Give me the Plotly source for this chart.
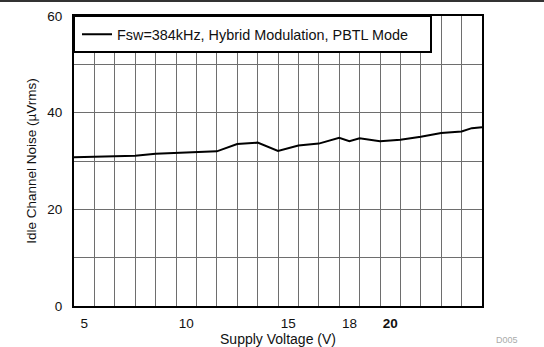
import plotly.graph_objects as go

# Supply voltage (V) and measured idle channel noise (uVrms)
supply_voltage = [4.5, 5.5, 6.5, 7.5, 8.5, 9.5, 10.5, 11.5, 12.5, 13.5, 14.5, 15.5,
                  16.5, 17.5, 18.0, 18.5, 19.5, 20.5, 21.5, 22.5, 23.5, 24.0, 24.5]
idle_noise = [30.8, 30.9, 31.0, 31.1, 31.5, 31.7, 31.8, 32.0, 33.5, 33.8, 32.1, 33.2,
              33.6, 34.8, 34.1, 34.7, 34.1, 34.4, 35.0, 35.8, 36.1, 36.8, 37.0]

x_tick_vals = [5, 10, 15, 18, 20]
x_tick_text = ["5", "10", "15", "18", "<b>20</b>"]
y_tick_vals = [0, 20, 40, 60]

series_name = "Fsw=384kHz, Hybrid Modulation, PBTL Mode"

W, H = 544, 347
L, R, T, B = 74, 62, 16, 41
pw, ph = W - L - R, H - T - B

def px_x(p):
    return (p - L) / pw

def px_y(p):
    return (H - B - p) / ph

font_family = "Liberation Sans, Arial, Helvetica, sans-serif"

fig = go.Figure()
fig.add_trace(go.Scatter(
    x=supply_voltage, y=idle_noise, mode="lines", name=series_name,
    line=dict(color="black", width=2),
))

grid_color = "#6e6e6e"

fig.update_xaxes(
    range=[4.5, 24.5],
    tickmode="array", tickvals=x_tick_vals, ticktext=x_tick_text,
    showgrid=False, zeroline=False,
    showline=True, linecolor="black", linewidth=2, mirror=True,
    ticks="", ticklabelstandoff=4,
    minor=dict(tickmode="linear", tick0=4.5, dtick=1, showgrid=True,
               gridcolor=grid_color, gridwidth=1),
    tickfont=dict(size=13.5, color="#111"),
    title=dict(text="Supply Voltage (V)", font=dict(size=14, color="#111"), standoff=0),
)
fig.update_yaxes(
    range=[0, 60],
    tickmode="array", tickvals=y_tick_vals,
    showgrid=True, gridcolor=grid_color, gridwidth=1, zeroline=False,
    showline=True, linecolor="black", linewidth=2, mirror=True,
    ticks="", ticklabelstandoff=7,
    minor=dict(tickmode="linear", tick0=0, dtick=10, showgrid=True,
               gridcolor=grid_color, gridwidth=1),
    tickfont=dict(size=13.5, color="#111"),
    title=dict(text="Idle Channel Noise (\u00b5Vrms)", font=dict(size=13.5, color="#111"), standoff=8),
)

shapes = [
    # legend frame
    dict(type="rect", xref="paper", yref="paper",
         x0=0, x1=px_x(431), y0=px_y(52), y1=1,
         fillcolor="white", line=dict(color="black", width=2), layer="above"),
    # rule across the top of the page
    dict(type="line", xref="paper", yref="paper",
         x0=px_x(0), x1=px_x(W), y0=px_y(1), y1=px_y(1),
         line=dict(color="#333", width=2)),
]

fig.update_layout(
    width=W, height=H,
    margin=dict(l=L, r=R, t=T, b=B, autoexpand=False),
    paper_bgcolor="white", plot_bgcolor="white",
    font=dict(family=font_family, size=13, color="#111"),
    showlegend=True,
    legend=dict(x=px_x(77), y=px_y(34.5), xanchor="left", yanchor="middle",
                bgcolor="rgba(0,0,0,0)", borderwidth=0,
                font=dict(size=14.4, color="#111")),
    shapes=shapes,
    annotations=[dict(text="D005", xref="paper", yref="paper",
                      x=px_x(507), y=px_y(340), xanchor="center", yanchor="middle",
                      showarrow=False, font=dict(size=9, color="#aaa"))],
)

fig.write_html("out.html")
